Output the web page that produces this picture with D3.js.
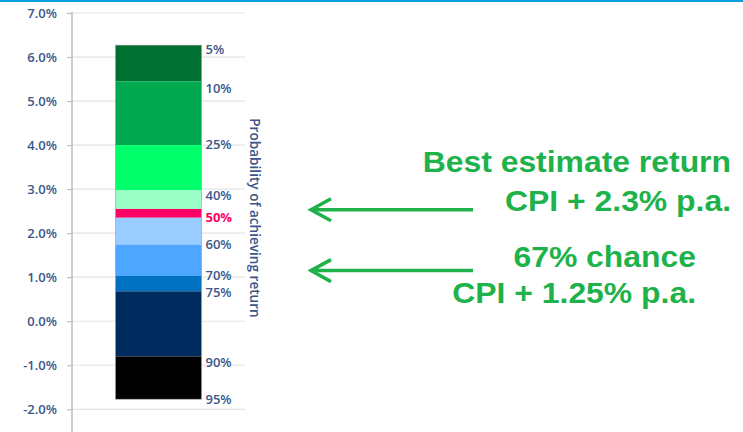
<!DOCTYPE html>
<html>
<head>
<meta charset="utf-8">
<script src="https://cdn.jsdelivr.net/npm/d3@7"></script>
<style>
  html, body { margin: 0; padding: 0; background: #fff; }
  svg { display: block; }
</style>
</head>
<body>
<svg id="chart" width="743" height="432"></svg>
<script>
// ---- data ----
const yTicks = [-2, -1, 0, 1, 2, 3, 4, 5, 6, 7];
const bandTops    = [6.27, 5.45, 4.00, 2.98, 2.55, 2.35, 1.74, 1.03, 0.68, -0.80];
const bandBottoms = [5.45, 4.00, 2.98, 2.55, 2.35, 1.74, 1.03, 0.68, -0.80, -1.77];
const bandColors  = ["#006f32", "#00a94f", "#00ff6a", "#99ffc6", "#ff0066",
                     "#99ccff", "#4da6ff", "#0070c0", "#002b5e", "#000000"];
const pctLabels   = ["5%", "10%", "25%", "40%", "50%", "60%", "70%", "75%", "90%", "95%"];
const pctLabelAt  = [6.18, 5.28, 4.01, 2.85, 2.35, 1.74, 1.03, 0.66, -0.93, -1.78];
const category    = ["Portfolio"];
const axisTitle   = "Probability of achieving return";
const arrowValues = [2.53, 1.15];
const noteLines   = [
  ["Best estimate return", "CPI + 2.3% p.a."],
  ["67% chance", "CPI + 1.25% p.a."]
];

// ---- layout ----
const svg = d3.select("#chart");
const axisX = 72, gridRight = 245;
const y = d3.scaleLinear().domain([-2, 7]).range([409.3, 13]);
const x = d3.scaleBand().domain(category).range([axisX, gridRight])
  .paddingInner(0).paddingOuter(0.506);
const slate = "#3b5688";
const green = "#20b24a";

// top blue rule
svg.append("rect").attr("x", 0).attr("y", 0).attr("width", 743).attr("height", 2)
  .attr("fill", "#0a9be0");

// gridlines
svg.append("g").selectAll("line").data(yTicks).join("line")
  .attr("x1", axisX).attr("x2", gridRight)
  .attr("y1", d => y(d)).attr("y2", d => y(d))
  .attr("stroke", "#e4e4e4").attr("stroke-width", 1.2);

// y axis
const yAxis = d3.axisLeft(y).tickValues(yTicks)
  .tickFormat(d => d3.format(".1f")(d).replace("\u2212", "-") + "%").tickSize(5).tickPadding(10);
const gy = svg.append("g").attr("transform", `translate(${axisX},0)`).call(yAxis);
gy.select(".domain").remove();
gy.selectAll(".tick line").attr("stroke", "#bdbdbd").attr("stroke-width", 1.2);
gy.selectAll(".tick text").attr("fill", slate)
  .style("font-family", "'Open Sans', sans-serif").style("font-size", "13px")
  .style("font-weight", "600");
svg.append("line").attr("x1", axisX).attr("x2", axisX).attr("y1", 12).attr("y2", 432)
  .attr("stroke", "#bdbdbd").attr("stroke-width", 1.5);

// bar segments
const bx = x(category[0]), bw = x.bandwidth();
svg.append("g").selectAll("rect").data(bandTops).join("rect")
  .attr("x", bx).attr("width", bw)
  .attr("y", (d, i) => y(d))
  .attr("height", (d, i) => y(bandBottoms[i]) - y(d))
  .attr("fill", (d, i) => bandColors[i]);
svg.append("rect").attr("x", bx).attr("width", bw)
  .attr("y", y(bandTops[0])).attr("height", y(bandBottoms[bandBottoms.length - 1]) - y(bandTops[0]))
  .attr("fill", "none").attr("stroke", "#9a9a9a").attr("stroke-width", 0.6);

// percentile labels
svg.append("g").selectAll("text").data(pctLabels).join("text")
  .attr("x", bx + bw + 4)
  .attr("y", (d, i) => y(pctLabelAt[i]))
  .attr("dy", "0.35em")
  .attr("fill", d => d === "50%" ? "#ff0066" : slate)
  .style("font-family", "'Open Sans', sans-serif").style("font-size", "13px")
  .style("font-weight", d => d === "50%" ? "700" : "600")
  .text(d => d);

// rotated axis title
svg.append("text")
  .attr("transform", `translate(250,218) rotate(90)`)
  .attr("text-anchor", "middle")
  .attr("fill", slate)
  .style("font-family", "'Open Sans', sans-serif").style("font-size", "13.6px")
  .style("font-weight", "600")
  .text(axisTitle);

// arrows
const arrowG = svg.append("g").attr("stroke", green).attr("stroke-width", 3.5)
  .attr("fill", "none").attr("stroke-linecap", "butt");
arrowValues.forEach(v => {
  const ay = y(v);
  arrowG.append("line").attr("x1", 473).attr("x2", 311).attr("y1", ay).attr("y2", ay);
  arrowG.append("polyline")
    .attr("points", `331,${ay - 11} 311,${ay} 331,${ay + 11}`)
    .attr("stroke-linejoin", "miter");
});

// annotation text (horizontally stretched like the reference)
const noteRight = [731, 696];
const noteBase = [[172, 211], [267, 303]];
noteLines.forEach((lines, k) => {
  lines.forEach((t, j) => {
    svg.append("g")
      .attr("transform", `translate(${noteRight[k]},${noteBase[k][j]}) scale(1.1,1)`)
      .append("text")
      .attr("x", 0).attr("y", 0)
      .attr("fill", green)
      .style("font-family", "'Liberation Sans', Arial, sans-serif")
      .style("font-size", "29px").style("font-weight", "700")
      .attr("text-anchor", "end")
      .text(t);
  });
});
</script>
</body>
</html>
